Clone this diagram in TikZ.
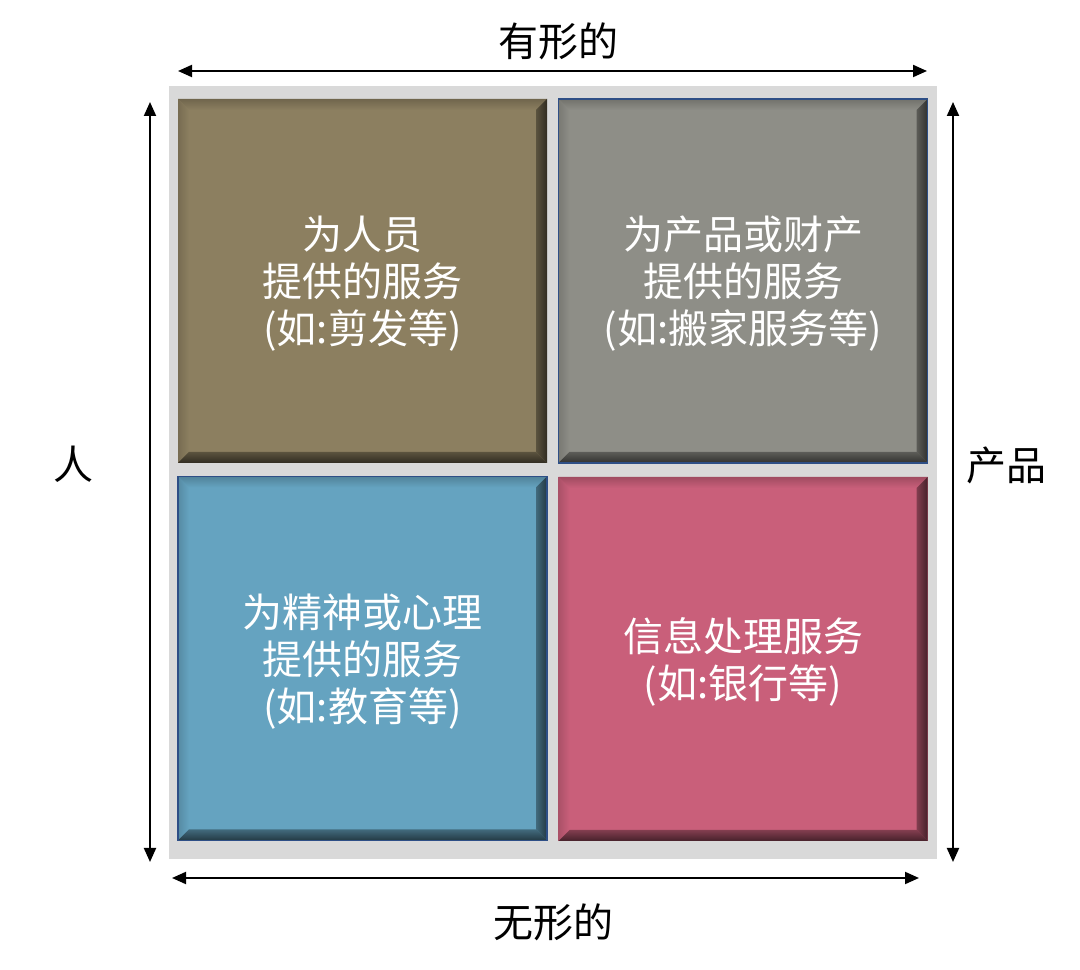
\documentclass[tikz,border=0pt]{standalone}
\usepackage{fontspec}
\newfontfamily\cjk{Noto Sans CJK SC}
\usetikzlibrary{arrows.meta,calc}
\definecolor{bgg}{HTML}{D9D9D9}
\definecolor{cTL}{HTML}{8C7F60}
\definecolor{cTR}{HTML}{8E8E87}
\definecolor{cBL}{HTML}{65A3C0}
\definecolor{cBR}{HTML}{C95F7A}
\definecolor{bord}{HTML}{2E4F86}
\newcommand\bevw{11}
\newcommand\bevelize[2]{%
 \shade[top color=#2!80!black, middle color=#2!40!white, bottom color=#2]
   (#1.north west) -- (#1.north east) -- ($(#1.north east)+(-\bevw,-\bevw)$) -- ($(#1.north west)+(\bevw,-\bevw)$) -- cycle;
 \shade[left color=#2!85!black, right color=#2]
   (#1.north west) -- ($(#1.north west)+(\bevw,-\bevw)$) -- ($(#1.south west)+(\bevw,\bevw)$) -- (#1.south west) -- cycle;
 \shade[left color=#2!65!black, right color=#2!35!black]
   (#1.north east) -- (#1.south east) -- ($(#1.south east)+(-\bevw,\bevw)$) -- ($(#1.north east)+(-\bevw,-\bevw)$) -- cycle;
 \shade[top color=#2!65!black, bottom color=#2!35!black]
   (#1.south west) -- ($(#1.south west)+(\bevw,\bevw)$) -- ($(#1.south east)+(-\bevw,\bevw)$) -- (#1.south east) -- cycle;
}
\begin{document}
\begin{tikzpicture}[x=1pt,y=1pt,
 quadbox/.style={rectangle, inner sep=0pt, outer sep=0pt, minimum width=369pt, minimum height=364pt},
 quadtext/.style={text=white, align=center, inner sep=0pt, font=\cjk\fontsize{40}{47}\selectfont, yshift=-3pt},
 lbl/.style={font=\cjk\fontsize{40}{48}\selectfont, text=black, inner sep=0pt},
 dblarrow/.style={{Triangle[length=14pt,width=12pt]}-{Triangle[length=14pt,width=12pt]}, line width=2pt, black},
 bluerim/.style={draw=bord, line width=1.3pt}]
\useasboundingbox (0,0) rectangle (1080,970);
\fill[white] (0,0) rectangle (1080,970);
\fill[bgg] (169,111) rectangle (937,884);

\node[quadbox, fill=cTL] (tl) at (362.5,689) {};
\node[quadbox, fill=cTR] (tr) at (743,689) {};
\node[quadbox, fill=cBL] (bl) at (362.5,311.5) {};
\node[quadbox, fill=cBR] (br) at (743,311) {};

\bevelize{tl}{cTL}
\bevelize{tr}{cTR}
\bevelize{bl}{cBL}
\bevelize{br}{cBR}
\draw[bluerim] (tr.north west) rectangle (tr.south east);
\draw[bluerim] (bl.north west) rectangle (bl.south east);

\node[quadtext] (tlt) at (tl.center) {为人员\\提供的服务\\(如:剪发等)};
\node[quadtext] (trt) at (tr.center) {为产品或财产\\提供的服务\\(如:搬家服务等)};
\node[quadtext] (blt) at (bl.center) {为精神或心理\\提供的服务\\(如:教育等)};
\node[quadtext] (brt) at (br.center) {信息处理服务\\(如:银行等)};

\node[lbl] (top) at (558,929) {有形的};
\node[lbl] (bottom) at (553,48) {无形的};
\node[lbl] (left) at (73,506) {人};
\node[lbl] (right) at (1006,505) {产品};

\coordinate (t1) at (178,899); \coordinate (t2) at (927,899);
\coordinate (b1) at (172,92);  \coordinate (b2) at (919,92);
\coordinate (l1) at (150,868); \coordinate (l2) at (150,108);
\coordinate (r1) at (953,868); \coordinate (r2) at (953,108);
\draw[dblarrow] (t1) -- (t2);
\draw[dblarrow] (b1) -- (b2);
\draw[dblarrow] (l1) -- (l2);
\draw[dblarrow] (r1) -- (r2);
\end{tikzpicture}
\end{document}
